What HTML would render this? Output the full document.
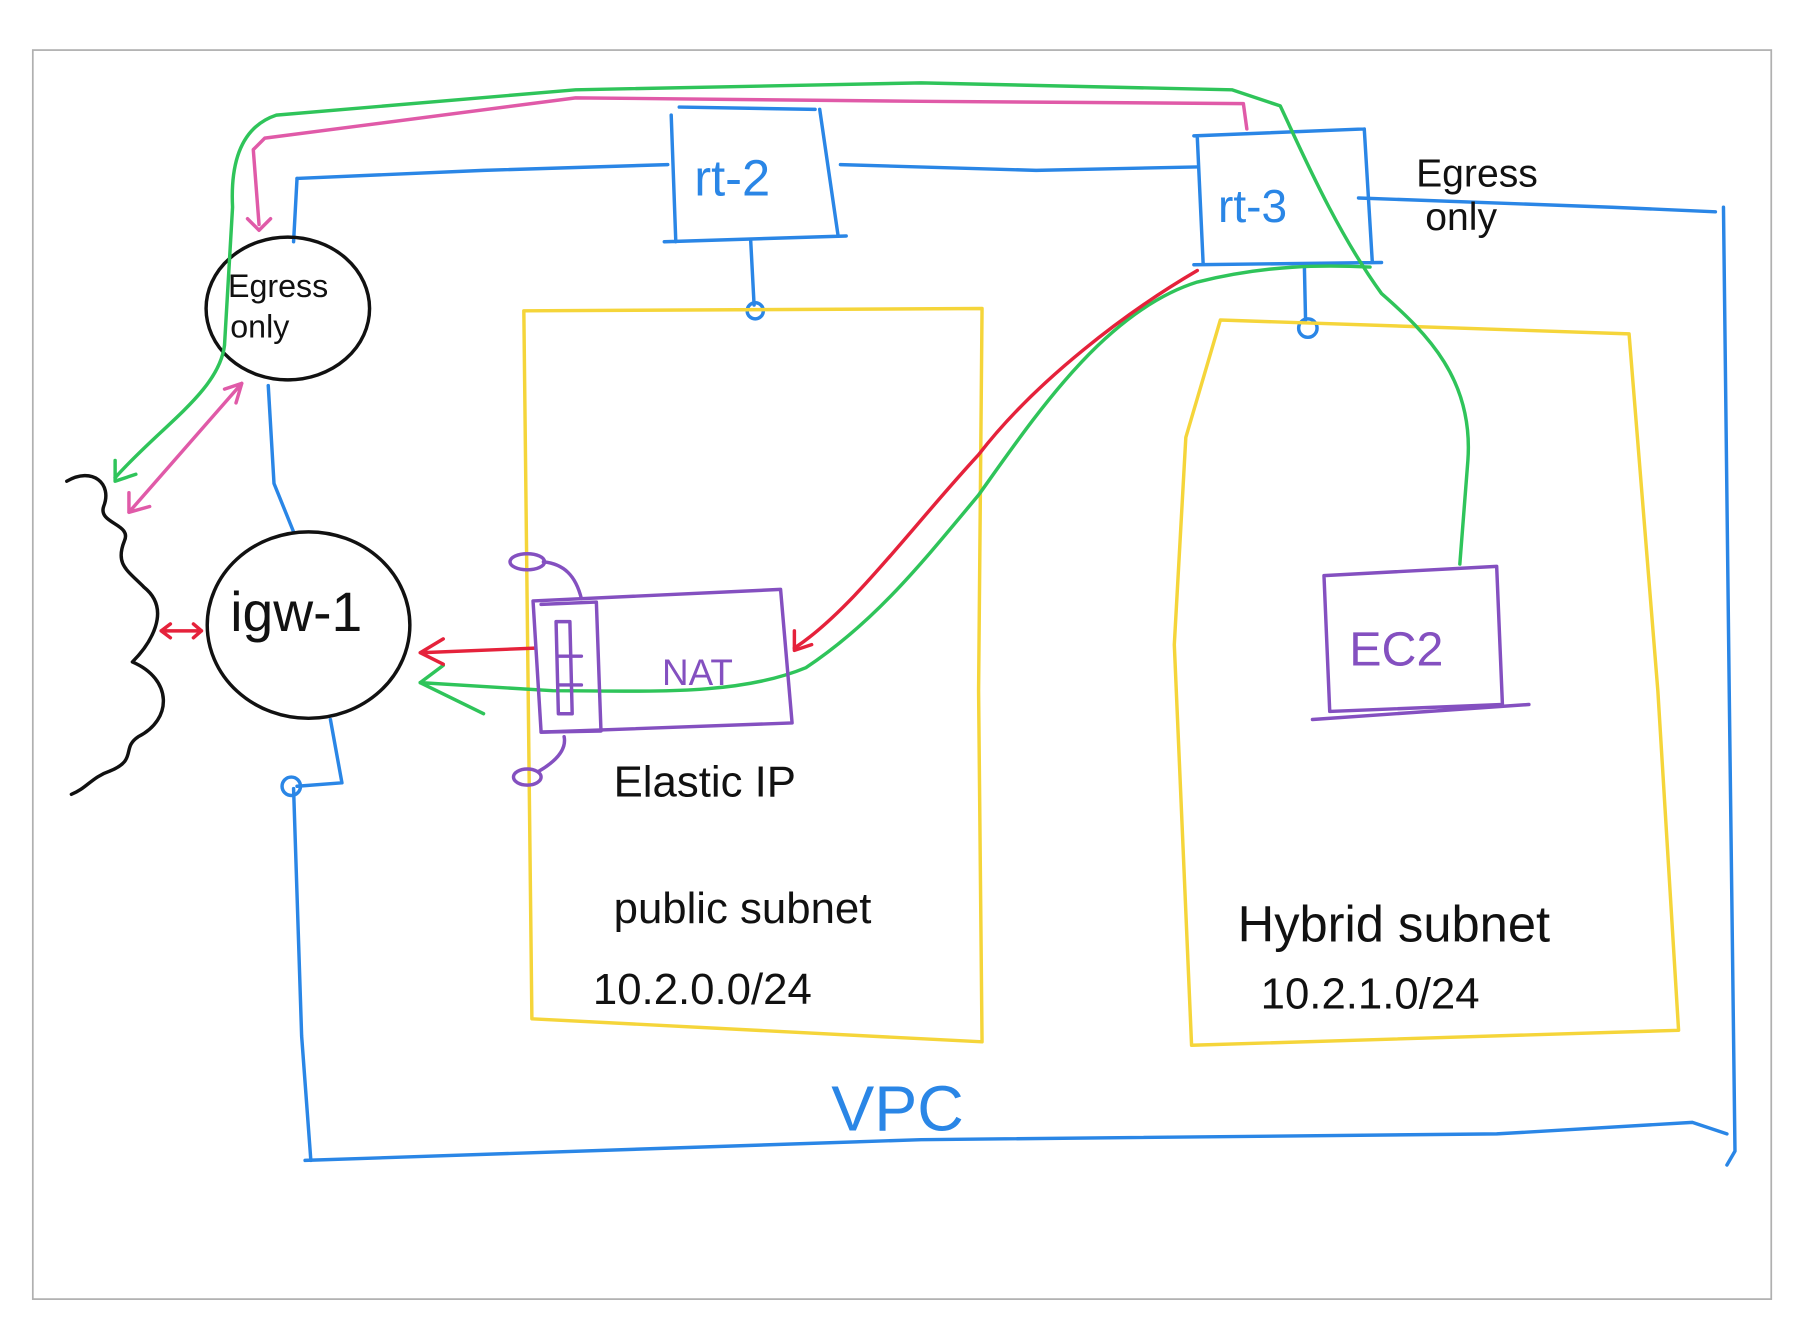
<!DOCTYPE html>
<html><head><meta charset="utf-8"><style>
html,body{margin:0;padding:0;background:#fff;}
svg{display:block;}
text{font-family:"Liberation Sans",sans-serif;}
</style></head><body>
<svg width="1796" height="1344" viewBox="0 0 1560 1167.5" preserveAspectRatio="none" xmlns="http://www.w3.org/2000/svg">
<rect x="0" y="0" width="1560" height="1168" fill="#fff"/>
<rect x="28.5" y="43.5" width="1510" height="1085" fill="none" stroke="#b0b0b0" stroke-width="1.5"/>
<g fill="none" stroke-width="3" stroke-linecap="round" stroke-linejoin="round">
<!-- VPC blue -->
<g stroke="#2a86e6">
<path d="M255 685 L262 900 L270 1008"/>
<path d="M265 1008 L800 990 L1300 985 L1470 975 L1500 985"/>
<path d="M1497 180 L1502 600 L1507 1000 L1500 1012"/>
<path d="M1180 172 L1400 180 L1490 184"/>
<path d="M258 155 L420 148 L580 143"/>
<path d="M730 143 L900 148 L1040 145"/>
<path d="M258 155 L255 210"/>
<path d="M590 93 L708 95 M583 100 L587 210 M577 210 L735 205 M712 95 L728 205"/>
<path d="M1037 118 L1185 112 M1040 120 L1045 228 M1037 230 L1200 228 M1185 112 L1192 228"/>
<path d="M652 208 L655 265"/>
<circle cx="656" cy="270" r="7"/>
<path d="M1133 232 L1134 278"/>
<circle cx="1136" cy="285" r="8"/>
<path d="M233 335 L238 420 L255 462"/>
<path d="M287 625 L297 680 L258 683"/>
<circle cx="253" cy="683" r="8"/>
</g>
<!-- subnets yellow -->
<g stroke="#f5d53a">
<path d="M455 270 L853 268 L850 600 L853 905 L462 885 L455 270 Z"/>
<path d="M1060 278 L1415 290 L1440 600 L1458 895 L1035 908 L1020 560 L1030 380 L1060 278 Z"/>
</g>
<!-- black -->
<g stroke="#111">
<ellipse cx="250" cy="268" rx="71" ry="62"/>
<ellipse cx="268" cy="543" rx="88" ry="81"/>
<path d="M58 418 C80 405 98 420 90 440 C85 455 115 455 108 470 C100 490 110 495 125 510 C150 530 130 560 115 575 C150 590 150 625 120 640 C105 650 120 660 95 670 C80 675 75 685 62 690"/>
</g>
<!-- pink -->
<g stroke="#e05aa8">
<path d="M1083 112 L1080 90 L800 88 L500 85 L230 120 L220 130 L225 195"/>
<path d="M215 190 L225 200 L235 190"/>
<path d="M112 445 L210 333 M195 338 L210 333 L205 350 M112 428 L112 445 L130 440"/>
</g>
<!-- green -->
<g stroke="#2fc45a">
<path d="M1268 490 L1275 400 C1280 330 1240 290 1200 255 C1160 200 1130 130 1112 92 L1070 78 L800 72 L500 78 L240 100 C210 110 200 140 202 180 L195 300 C190 340 140 370 100 415"/>
<path d="M100 400 L100 418 L118 412"/>
<path d="M1190 232 C1150 230 1100 230 1040 245 C960 270 900 360 850 430 C800 490 760 540 700 580 C640 605 560 600 480 600 L365 593"/>
<path d="M385 578 L365 593 L420 620"/>
</g>
<!-- red -->
<g stroke="#e5223b">
<path d="M1040 235 C980 270 900 330 850 395 C790 460 740 530 690 563"/>
<path d="M690 548 L690 565 L705 560"/>
<path d="M465 563 L365 567 M385 555 L365 567 L385 577"/>
<path d="M140 548 L175 548 M148 542 L140 548 L148 554 M168 542 L175 548 L168 554"/>
</g>
<!-- purple -->
<g stroke="#8450c0">
<path d="M463 522 L678 512 L688 628 L470 636 Z"/>
<path d="M470 525 L518 523 L522 635 L470 636"/>
<path d="M483 540 L495 540 L497 620 L485 620 Z M485 570 L505 570 M485 595 L505 595"/>
<ellipse cx="458" cy="488" rx="15" ry="7"/>
<path d="M472 488 C490 490 500 500 505 520"/>
<ellipse cx="458" cy="675" rx="12" ry="7"/>
<path d="M468 670 C485 660 492 650 490 640"/>
<path d="M1150 500 L1300 492 L1305 612 L1155 618 Z M1140 625 L1328 612"/>
</g>
</g>
<!-- texts -->
<text x="603" y="170" font-size="44" fill="#2a86e6">rt-2</text>
<text x="1058" y="193" font-size="40" fill="#2a86e6">rt-3</text>
<text x="198" y="258" font-size="28" fill="#111">Egress</text>
<text x="200" y="293" font-size="28" fill="#111">only</text>
<text x="200" y="548" font-size="48" fill="#111">igw-1</text>
<text x="575" y="595" font-size="32" fill="#8450c0">NAT</text>
<text x="1172" y="578" font-size="42" fill="#8450c0">EC2</text>
<text x="533" y="692" font-size="38" fill="#111">Elastic IP</text>
<text x="533" y="802" font-size="38" fill="#111">public subnet</text>
<text x="515" y="872" font-size="38" fill="#111">10.2.0.0/24</text>
<text x="1075" y="818" font-size="44" fill="#111">Hybrid subnet</text>
<text x="1095" y="876" font-size="38" fill="#111">10.2.1.0/24</text>
<text x="722" y="982" font-size="56" fill="#2a86e6">VPC</text>
<text x="1230" y="162" font-size="34" fill="#111">Egress</text>
<text x="1238" y="200" font-size="34" fill="#111">only</text>
</svg>
</body></html>
